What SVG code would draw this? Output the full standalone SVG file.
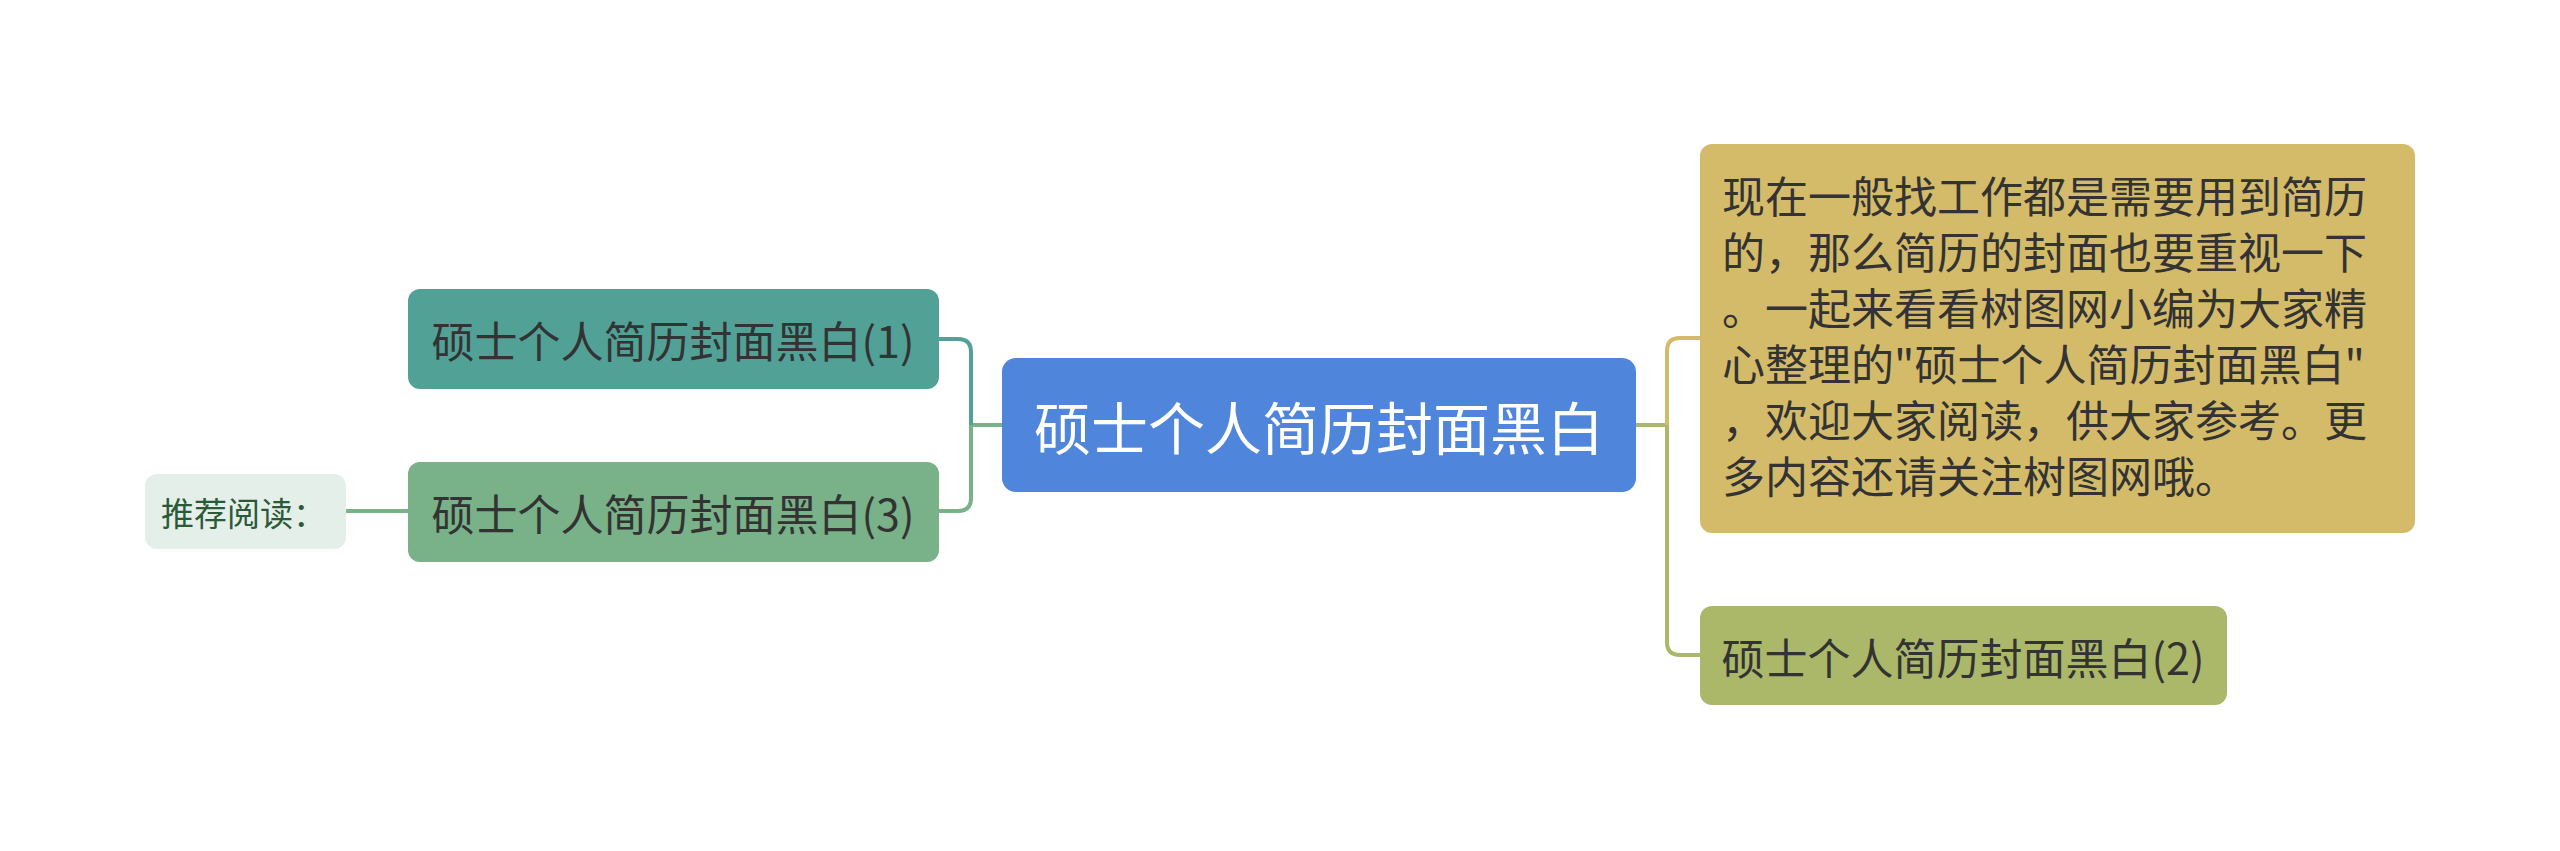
<svg xmlns="http://www.w3.org/2000/svg" width="2560" height="851" viewBox="0 0 2560 851">
<style>
text{font-family:"Noto Sans CJK SC","Noto Sans",sans-serif;}
.lbl{font-size:43px;fill:#333333;text-anchor:middle;dominant-baseline:central;}
.conn{fill:none;stroke-width:4;}
</style>
<rect width="2560" height="851" fill="#ffffff"/>
<g id="connectors">
  <path class="conn" stroke="#79b189" d="M1002,425 H971"/>
  <path class="conn" stroke="#52a197" d="M939,339 H958 Q971,339 971,352 V425"/>
  <path class="conn" stroke="#79b189" d="M971,425 V498 Q971,511 958,511 H939"/>
  <path class="conn" stroke="#79b189" d="M346,511 H408"/>
  <path class="conn" stroke="#abb86a" d="M1636,425 H1667"/>
  <path class="conn" stroke="#d4bb6a" d="M1700,338 H1680 Q1667,338 1667,351 V425"/>
  <path class="conn" stroke="#abb86a" d="M1667,425 V642 Q1667,655 1680,655 H1700"/>
</g>
<g id="center">
  <rect x="1002" y="358" width="634" height="134" rx="14" fill="#4f86db"/>
  <text x="1319" y="425" font-size="57" fill="#ffffff" text-anchor="middle" dominant-baseline="central">硕士个人简历封面黑白</text>
</g>
<g id="node1">
  <rect x="408" y="289" width="531" height="100" rx="12" fill="#52a197"/>
  <text class="lbl" x="673" y="339">硕士个人简历封面黑白(1)</text>
</g>
<g id="node3">
  <rect x="408" y="462" width="531" height="100" rx="12" fill="#79b189"/>
  <text class="lbl" x="673" y="512">硕士个人简历封面黑白(3)</text>
</g>
<g id="recommend">
  <rect x="145" y="474" width="201" height="75" rx="12" fill="#e5efe9"/>
  <text x="161" y="512" font-size="33" fill="#2b5a38" dominant-baseline="central">推荐阅读：</text>
</g>
<g id="desc">
  <rect x="1700" y="144" width="715" height="389" rx="12" fill="#d4bb6a"/>
  <g font-size="43" fill="#333333">
    <text x="1722" y="213">现在一般找工作都是需要用到简历</text>
    <text x="1722" y="269">的，那么简历的封面也要重视一下</text>
    <text x="1722" y="325">。一起来看看树图网小编为大家精</text>
    <text x="1722" y="381">心整理的"硕士个人简历封面黑白"</text>
    <text x="1722" y="437">，欢迎大家阅读，供大家参考。更</text>
    <text x="1722" y="493">多内容还请关注树图网哦。</text>
  </g>
</g>
<g id="node2">
  <rect x="1700" y="606" width="527" height="99" rx="12" fill="#abb86a"/>
  <text class="lbl" x="1963" y="656">硕士个人简历封面黑白(2)</text>
</g>
</svg>
